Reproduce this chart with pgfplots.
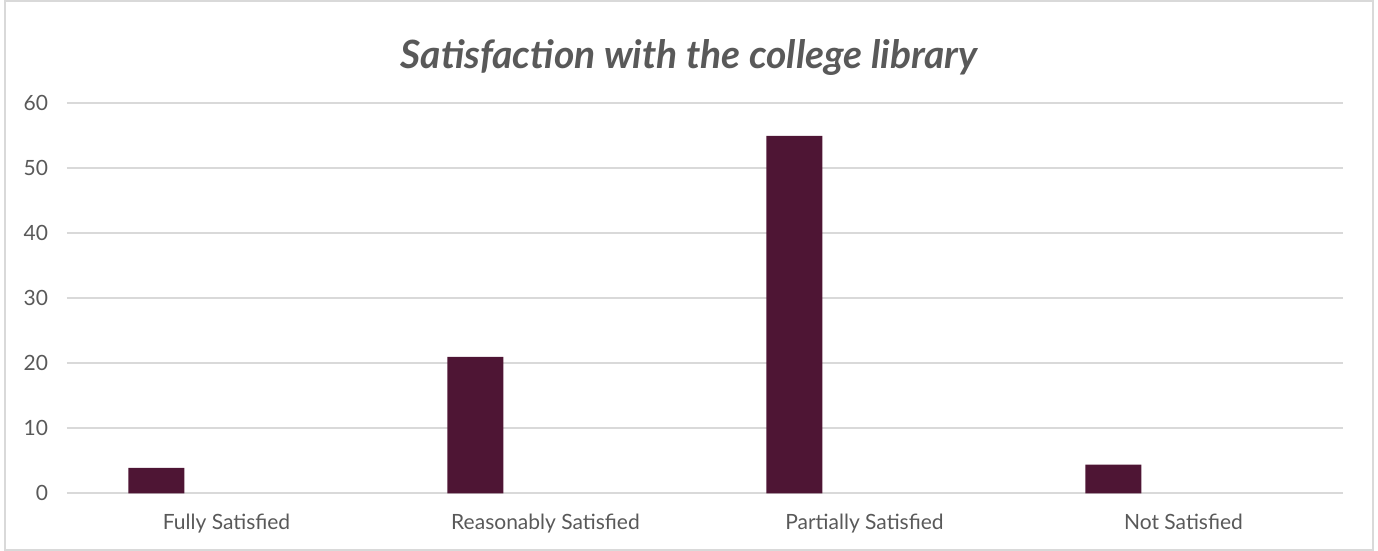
\documentclass[border=0pt]{standalone}
\usepackage{fontspec}
\setmainfont{Lato}
\usepackage{pgfplots}
\pgfplotsset{compat=1.18}
\definecolor{barcol}{HTML}{4E1534}
\definecolor{txt}{HTML}{595959}
\definecolor{gridc}{HTML}{D9D9D9}
\begin{document}
\begin{tikzpicture}
\path (0,0) rectangle (689pt,275.5pt);
\draw[gridc, line width=0.75pt] (2.5pt,0.5pt) rectangle (686.5pt,275pt);
\node[text=txt, font=\fontsize{19.5}{23}\selectfont\bfseries\itshape] at (344.5pt,246.5pt) {Satisfaction with the college library};
\begin{axis}[
  at={(33.5pt,28.85pt)}, anchor=south west,
  scale only axis,
  width=638pt, height=195pt,
  xmin=-0.5, xmax=3.5,
  ymin=0, ymax=60,
  ytick={0,10,...,60},
  xtick=data,
  xticklabels={Fully Satisfied, Reasonably Satisfied, Partially Satisfied, Not Satisfied},
  axis line style={draw=none},
  major tick length=0pt,
  ymajorgrids,
  grid style={gridc, line width=0.8pt},
  tick label style={text=txt, font=\fontsize{10.5}{12}\selectfont},
  /pgf/number format/assume math mode=true,
  yticklabel style={xshift=-6pt},
  xticklabel style={yshift=-7pt},
  ybar, bar width=28pt, bar shift=-35pt,
  clip=false,
]
\addplot[fill=barcol, draw=none] coordinates {(0,3.9) (1,21) (2,55) (3,4.4)};
\end{axis}
\end{tikzpicture}
\end{document}
